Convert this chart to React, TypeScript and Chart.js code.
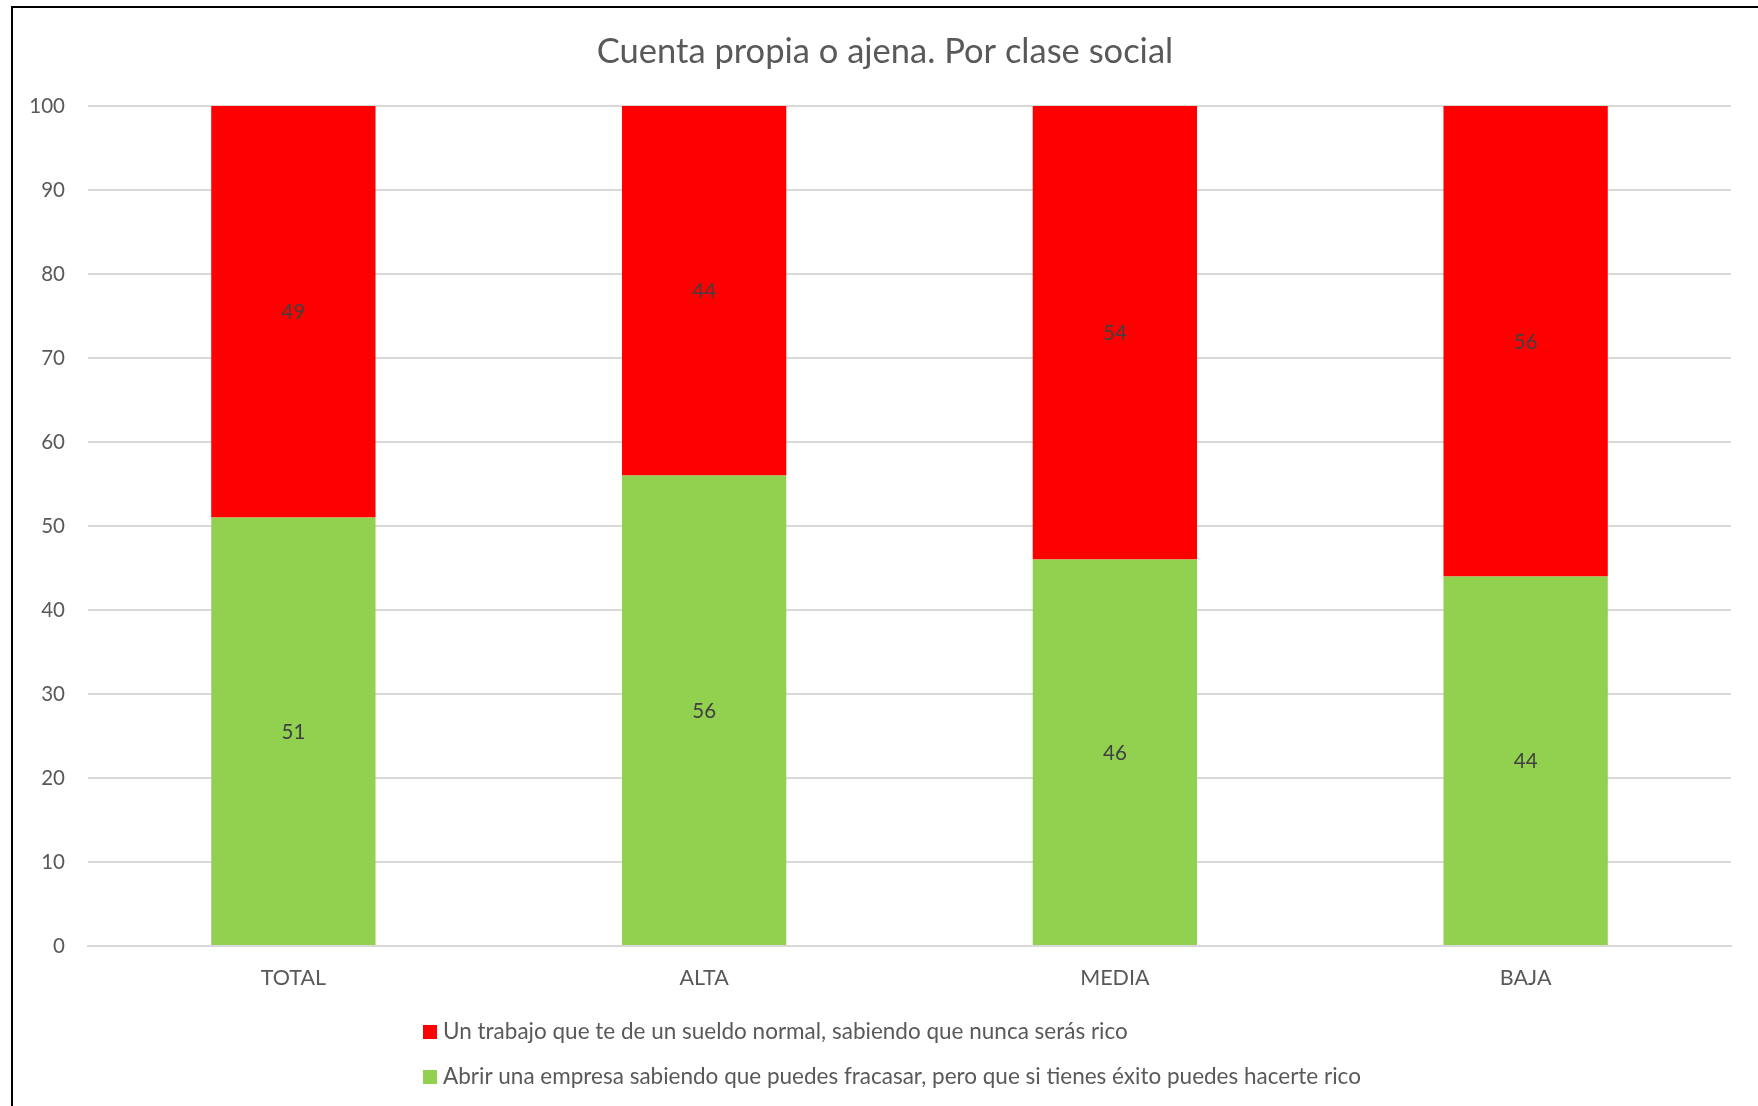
import React, { useEffect, useRef } from "react";
import { Chart, registerables } from "chart.js";

Chart.register(...registerables);

const chartTitle = "Cuenta propia o ajena. Por clase social";
const categories = ["TOTAL", "ALTA", "MEDIA", "BAJA"];
const seriesNames = [
  "Un trabajo que te de un sueldo normal, sabiendo que nunca serás rico",
  "Abrir una empresa sabiendo que puedes fracasar, pero que si tienes éxito puedes hacerte rico",
];
const sueldoValues = [49, 44, 54, 56];
const empresaValues = [51, 56, 46, 44];
const seriesColors = ["#FF0000", "#92D050"];
const yMin = 0;
const yMax = 100;
const yStep = 10;

const FONT = "Lato, 'Open Sans', sans-serif";

const decorPlugin = {
  id: "decor",
  beforeDraw(chart: any) {
    const ctx = chart.ctx;
    ctx.save();
    ctx.fillStyle = "#FFFFFF";
    ctx.fillRect(0, 0, chart.width, chart.height);
    ctx.restore();
  },
  afterDraw(chart: any) {
    const ctx = chart.ctx;
    ctx.save();
    // frame (left + top edges of the original chart box)
    ctx.strokeStyle = "#000000";
    ctx.lineWidth = 2;
    ctx.beginPath();
    ctx.moveTo(12, chart.height);
    ctx.lineTo(12, 7);
    ctx.lineTo(chart.width, 7);
    ctx.stroke();

    // title
    ctx.fillStyle = "#595959";
    ctx.font = `34.5px ${FONT}`;
    ctx.textAlign = "center";
    ctx.textBaseline = "middle";
    ctx.fillText(chartTitle, 885, 52);

    // data labels
    ctx.font = `20.5px ${FONT}`;
    ctx.fillStyle = "#404040";
    chart.data.datasets.forEach((ds: any, di: number) => {
      const meta = chart.getDatasetMeta(di);
      meta.data.forEach((bar: any, i: number) => {
        const { x, y, base } = bar.getProps(["x", "y", "base"], true);
        ctx.fillText(String(ds.data[i]), x, (y + base) / 2 + 1);
      });
    });

    // legend
    const legendX = 423;
    const rowsY = [1032, 1077];
    ctx.textAlign = "left";
    ctx.font = `22.5px ${FONT}`;
    seriesNames.forEach((name, i) => {
      ctx.fillStyle = seriesColors[i];
      ctx.fillRect(legendX, rowsY[i] - 7, 14, 14);
      ctx.fillStyle = "#595959";
      ctx.fillText(name, legendX + 20, rowsY[i]);
    });
    ctx.restore();
  },
};

export default function App() {
  const canvasRef = useRef<HTMLCanvasElement | null>(null);

  useEffect(() => {
    if (!canvasRef.current) return;
    const chart = new Chart(canvasRef.current, {
      type: "bar",
      data: {
        labels: categories,
        datasets: [
          {
            label: seriesNames[1],
            data: empresaValues,
            backgroundColor: seriesColors[1],
            categoryPercentage: 1,
            barPercentage: 0.4,
          },
          {
            label: seriesNames[0],
            data: sueldoValues,
            backgroundColor: seriesColors[0],
            categoryPercentage: 1,
            barPercentage: 0.4,
          },
        ],
      },
      options: {
        animation: false,
        responsive: false,
        maintainAspectRatio: false,
        layout: { padding: { left: 0, right: 27, top: 106, bottom: 100 } },
        plugins: {
          legend: { display: false },
          title: { display: false },
          tooltip: { enabled: false },
        },
        scales: {
          x: {
            stacked: true,
            grid: { display: false, drawTicks: false },
            border: { display: true, color: "#D9D9D9", width: 2 },
            ticks: {
              color: "#595959",
              font: { family: FONT, size: 21.5 },
              padding: 19,
            },
            afterFit(scale: any) {
              scale.height = 60;
            },
          },
          y: {
            stacked: true,
            min: yMin,
            max: yMax,
            grid: { color: "#D9D9D9", lineWidth: 2, drawTicks: false },
            border: { display: false },
            ticks: {
              stepSize: yStep,
              color: "#595959",
              font: { family: FONT, size: 20.5 },
              padding: 23,
            },
            afterFit(scale: any) {
              scale.width = 88;
            },
          },
        },
      },
      plugins: [decorPlugin],
    });
    return () => chart.destroy();
  }, []);

  return (
    <div style={{ position: "fixed", left: 0, top: 0, width: 1758, height: 1106, background: "#fff" }}>
      <canvas ref={canvasRef} width={1758} height={1106} style={{ display: "block" }} />
    </div>
  );
}
